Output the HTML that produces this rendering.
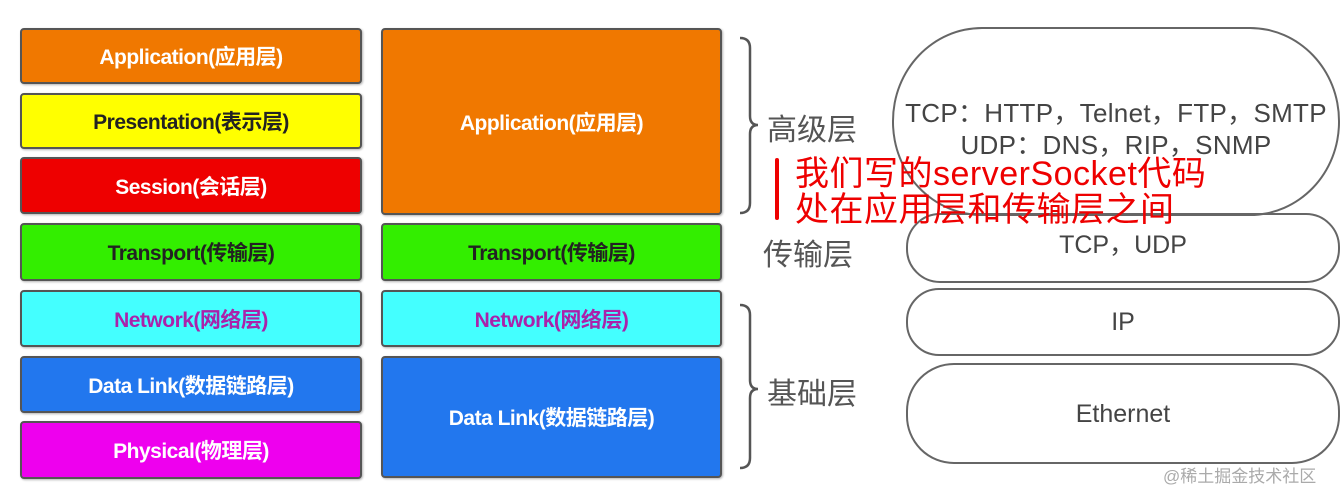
<!DOCTYPE html>
<html><head><meta charset="utf-8"><style>
body{margin:0;width:1342px;height:500px;background:#fff;position:relative;overflow:hidden;font-family:"Liberation Sans","Noto Sans CJK SC",sans-serif}
.b{position:absolute;border:2px solid #555;border-radius:4px;box-sizing:border-box;display:flex;align-items:center;justify-content:center;font-weight:bold;font-size:21px;letter-spacing:-0.5px;box-shadow:1px 1px 2px rgba(0,0,0,.3)}
.o{position:absolute;border:2px solid #666;box-sizing:border-box;display:flex;align-items:center;justify-content:center;font-size:25px;color:#444;text-align:center;line-height:32px}
.t{position:absolute;font-size:30px;color:#555}
</style></head><body>
<div class="b" style="left:20px;top:28px;width:342px;height:56px;background:#f07800;color:#fff">Application(应用层)</div>
<div class="b" style="left:20px;top:93px;width:342px;height:56px;background:#ffff00;color:#222">Presentation(表示层)</div>
<div class="b" style="left:20px;top:157px;width:342px;height:57px;background:#ee0000;color:#fff">Session(会话层)</div>
<div class="b" style="left:20px;top:223px;width:342px;height:58px;background:#33ee00;color:#222">Transport(传输层)</div>
<div class="b" style="left:20px;top:290px;width:342px;height:57px;background:#44ffff;color:#aa22aa">Network(网络层)</div>
<div class="b" style="left:20px;top:356px;width:342px;height:57px;background:#2277ee;color:#fff">Data Link(数据链路层)</div>
<div class="b" style="left:20px;top:421px;width:342px;height:58px;background:#ee00ee;color:#fff">Physical(物理层)</div>
<div class="b" style="left:381px;top:28px;width:341px;height:187px;background:#f07800;color:#fff">Application(应用层)</div>
<div class="b" style="left:381px;top:223px;width:341px;height:58px;background:#33ee00;color:#222">Transport(传输层)</div>
<div class="b" style="left:381px;top:290px;width:341px;height:57px;background:#44ffff;color:#aa22aa">Network(网络层)</div>
<div class="b" style="left:381px;top:356px;width:341px;height:122px;background:#2277ee;color:#fff">Data Link(数据链路层)</div>
<svg style="position:absolute;left:0;top:0" width="1342" height="500">
<path d="M740 38 Q750 38 750 48 L750 116 Q750 125 758 125 Q750 125 750 134 L750 203 Q750 213 740 213" fill="none" stroke="#555" stroke-width="2.5"/>
<path d="M740 305 Q750 305 750 315 L750 380 Q750 389 758 389 Q750 389 750 398 L750 458 Q750 468 740 468" fill="none" stroke="#555" stroke-width="2.5"/>
<line x1="777" y1="160" x2="777" y2="218" stroke="#e00" stroke-width="4" stroke-linecap="round"/>
</svg>
<div class="t" style="left:767px;top:105px">高级层</div>
<div class="t" style="left:763px;top:230px">传输层</div>
<div class="t" style="left:767px;top:369px">基础层</div>
<div class="o" style="left:892px;top:27px;width:448px;height:189px;border-radius:90px/94px;font-size:26px;padding-top:14px;letter-spacing:0.3px">TCP：HTTP，Telnet，FTP，SMTP<br>UDP：DNS，RIP，SNMP</div>
<div class="o" style="left:906px;top:213px;width:434px;height:70px;border-radius:34px;padding-bottom:6px">TCP，UDP</div>
<div class="o" style="left:906px;top:288px;width:434px;height:68px;border-radius:33px">IP</div>
<div class="o" style="left:906px;top:363px;width:434px;height:101px;border-radius:48px">Ethernet</div>
<div style="position:absolute;left:795px;top:156px;font-size:34px;line-height:36px;color:#ee0000;letter-spacing:0.5px">我们写的serverSocket代码<br>处在应用层和传输层之间</div>
<div style="position:absolute;left:1163px;top:462px;font-size:17px;color:#aaa">@稀土掘金技术社区</div>
</body></html>
